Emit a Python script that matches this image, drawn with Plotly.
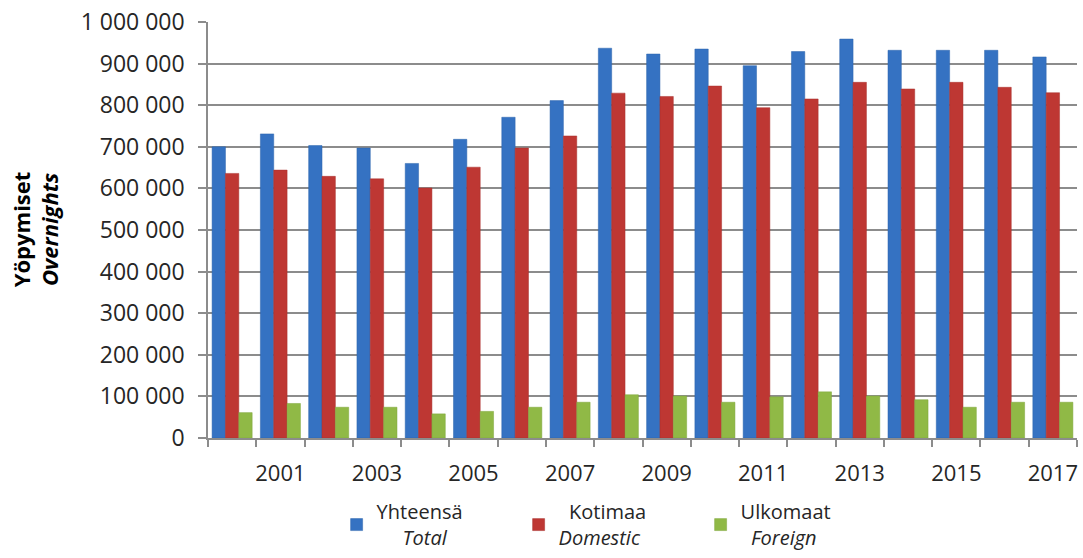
import plotly.graph_objects as go

years = list(range(2000, 2018))
total = [700000, 731000, 703000, 697000, 660000, 718000, 771000, 811000, 937000,
         923000, 935000, 895000, 929000, 959000, 932000, 932000, 932000, 916000]
domestic = [636000, 644000, 629000, 623000, 601000, 651000, 697000, 726000, 829000,
            821000, 846000, 794000, 815000, 855000, 839000, 855000, 843000, 830000]
foreign = [61000, 83000, 74000, 74000, 58000, 64000, 74000, 86000, 104000,
           101000, 86000, 99000, 111000, 101000, 92000, 74000, 86000, 86000]
tick_years = [y for y in years if y % 2 == 1]
y_ticks = list(range(0, 1000001, 100000))

NB = "\u00a0"
names = [
    "Yhteensä<br>" + NB * 5 + "<i>Total</i>",
    NB * 2 + "Kotimaa<br><i>Domestic</i>",
    "Ulkomaat<br>" + NB * 2 + "<i>Foreign</i>",
]
colors = ["#3572C2", "#BE3733", "#90B946"]
lines = ["#2D64AC", "#A8302D", "#7FA63C"]

fig = go.Figure()
for name, vals, c, lc in zip(names, [total, domestic, foreign], colors, lines):
    fig.add_trace(go.Bar(x=years, y=vals, name=name,
                         marker=dict(color=c, line=dict(color=lc, width=0.5))))

font = "Open Sans, Liberation Sans, sans-serif"
grid = "#8C8C8C"
fig.update_layout(
    width=1083, height=558,
    margin=dict(l=208, r=6, t=22, b=120, autoexpand=False),
    paper_bgcolor="white", plot_bgcolor="white",
    separators=", ",
    barmode="group", bargap=0.17, bargroupgap=0,
    font=dict(family=font, size=22, color="#262626"),
    showlegend=True,
    legend=dict(orientation="h", x=0.148, y=-0.13, xanchor="left", yanchor="top",
                entrywidth=137, entrywidthmode="pixels", valign="middle",
                font=dict(size=20, color="#262626"), traceorder="normal",
                itemwidth=30),
    xaxis=dict(type="linear", range=[years[0] - 0.5, years[-1] + 0.5],
               tickvals=tick_years, ticktext=[str(y) for y in tick_years],
               ticks="", showgrid=False, zeroline=False, automargin=False,
               showline=True, linecolor=grid, linewidth=1.5,
               ticklabelstandoff=15,
               tickfont=dict(size=22),
               minor=dict(tickvals=[y - 0.5 for y in years] + [years[-1] + 0.5],
                          ticks="outside", ticklen=7, tickcolor=grid, tickwidth=1.5,
                          showgrid=False)),
    yaxis=dict(range=[0, 1000000], tickvals=y_ticks, tickformat=",d",
               showgrid=True, gridcolor=grid, gridwidth=1.5, automargin=False,
               zeroline=False, showline=True, linecolor=grid, linewidth=1.5,
               ticks="outside", ticklen=8, tickcolor=grid, tickwidth=1.5,
               ticklabelstandoff=9,
               tickfont=dict(size=23)),
)
fig.add_annotation(
    text="<b>Yöpymiset</b><br><b><i>Overnights</i></b>",
    xref="paper", yref="paper", x=-0.199, y=0.502,
    xanchor="center", yanchor="middle", textangle=-90, align="center",
    showarrow=False, font=dict(size=22, color="#000000"))

fig.write_html("out.html", config={"displayModeBar": False},
               post_script="document.body.style.margin='0';document.body.style.overflow='hidden';")
